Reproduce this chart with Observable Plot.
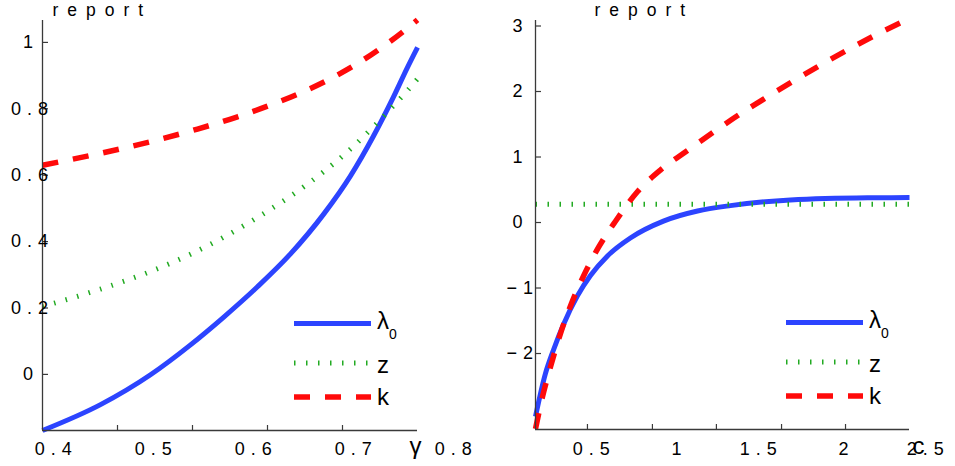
<!DOCTYPE html>
<html><head><meta charset="utf-8">
<script src="https://cdn.jsdelivr.net/npm/d3@7"></script>
<script src="https://cdn.jsdelivr.net/npm/@observablehq/plot@0.6"></script>
<style>
body{margin:0;background:#fff;}
#wrap{display:flex;width:955px;height:466px;overflow:hidden;}
#wrap svg{overflow:visible;}
g[font-size="18"] text{letter-spacing:6px;}
g[font-size="17.5"] text{letter-spacing:9px;}
</style></head><body><div id="wrap"></div>
<script>
// ---------- data ----------
const titleText = "report";
const seriesNames = ["λ", "z", "k"];
const seriesSub = ["0", "", ""];

// left panel (x = γ)
const leftXLabel = "γ";
const leftXDomain = [0.4, 0.775];
const leftYDomain = [-0.169, 1.066];
const leftXTicks = [0.475, 0.55, 0.625, 0.7];
const leftXLabels = [0.4, 0.5, 0.6, 0.7, 0.8];
const leftYTicks = [0, 0.2, 0.4, 0.6, 0.8, 1];
const lamL_x = [0.400, 0.458, 0.508, 0.548, 0.581, 0.615, 0.648, 0.681, 0.708, 0.731, 0.751, 0.765, 0.775];
const lamL_y = [-0.169, -0.091, -0.001, 0.089, 0.172, 0.264, 0.363, 0.482, 0.598, 0.718, 0.836, 0.925, 0.985];
const zL_x = [0.400, 0.411, 0.458, 0.508, 0.548, 0.581, 0.615, 0.648, 0.681, 0.708, 0.731, 0.751, 0.765, 0.775];
const zL_y = [0.205, 0.214, 0.257, 0.310, 0.362, 0.413, 0.473, 0.537, 0.610, 0.679, 0.746, 0.809, 0.855, 0.890];
const kL_x = [0.400, 0.458, 0.508, 0.555, 0.595, 0.625, 0.655, 0.685, 0.711, 0.738, 0.765, 0.775];
const kL_y = [0.630, 0.666, 0.701, 0.739, 0.776, 0.808, 0.844, 0.886, 0.929, 0.982, 1.043, 1.068];

// right panel (x = c)
const rightXLabel = "c";
const rightXDomain = [0.225, 2.464];
const rightYDomain = [-3.16, 3.084];
const rightXTicks = [0.536, 0.925, 1.308, 1.698, 2.081];
const rightXLabels = [0.5, 1, 1.5, 2, 2.5];
const rightYTicks = [-2, -1, 0, 1, 2, 3];
const lamR_x = [0.225, 0.284, 0.332, 0.392, 0.476, 0.554, 0.656, 0.793, 0.991, 1.195, 1.392, 1.751, 2.213, 2.464];
const lamR_y = [-2.96, -2.31, -1.95, -1.56, -1.12, -0.81, -0.51, -0.236, 0.021, 0.175, 0.258, 0.344, 0.377, 0.38];
const zR_x = [0.225, 2.464];
const zR_y = [0.28, 0.28];
const kR_x = [0.225, 0.266, 0.314, 0.374, 0.446, 0.512, 0.602, 0.704, 0.835, 0.973, 1.135, 1.290, 1.452, 1.614, 1.781, 1.943, 2.111, 2.290, 2.458];
const kR_y = [-3.15, -2.67, -2.21, -1.70, -1.20, -0.82, -0.38, 0.02, 0.47, 0.80, 1.10, 1.38, 1.66, 1.92, 2.18, 2.42, 2.66, 2.90, 3.11];

// ---------- styles ----------
const BLUE = "#2c44ff", GREEN = "#22aa22", RED = "#ff0a0a", AXIS = "#3a3a3a";
const styles = [
  {stroke: BLUE, strokeWidth: 5, strokeDasharray: null},
  {stroke: GREEN, strokeWidth: 5, strokeDasharray: "1.5,10.5"},
  {stroke: RED, strokeWidth: 5.5, strokeDasharray: "16,15"}
];
const FONT = "'Liberation Sans', Arial, Helvetica, sans-serif";
const fmt = d => d < 0 ? "\u2212" + Math.abs(d) : String(d);
const rows = (xs, ys) => xs.map((x, i) => ({x, y: ys[i]}));

function legendMark(index, scales, values, dims) {
  const g = d3.create("svg:g").attr("class", "legend").attr("font-family", FONT).attr("text-anchor", "start");
  const right = dims.width - dims.marginRight;
  const bottom = dims.height - dims.marginBottom;
  const rowY = [-106.5, -67, -33];
  const textDy = [5, 10, 8];
  seriesNames.forEach((name, i) => {
    const y = bottom + rowY[i];
    const s = styles[i];
    g.append("line").attr("x1", right - 123).attr("x2", right - 46)
      .attr("y1", y).attr("y2", y)
      .attr("stroke", s.stroke).attr("stroke-width", s.strokeWidth)
      .attr("stroke-dasharray", s.strokeDasharray);
    const t = g.append("text").attr("x", right - 40).attr("y", y + textDy[i])
      .attr("font-size", 24).attr("fill", "#000").text(name);
    if (seriesSub[i]) t.append("tspan").attr("font-size", 14).attr("dy", 10).text(seriesSub[i]);
  });
  return g.node();
}

function panel(o) {
  const series = [rows(o.lam[0], o.lam[1]), rows(o.z[0], o.z[1]), rows(o.k[0], o.k[1])];
  const intLabels = o.xLabels.filter(d => Number.isInteger(d));
  const decLabels = o.xLabels.filter(d => !Number.isInteger(d));
  const yInt = o.yTicks.filter(d => Number.isInteger(d) && d >= 0);
  const yNeg = o.yTicks.filter(d => d < 0);
  const yDec = o.yTicks.filter(d => !Number.isInteger(d));
  const lab = {fontSize: 18, fill: "#000", lineAnchor: "middle", textAnchor: "start"};
  return Plot.plot({
    width: o.width, height: 466,
    marginLeft: o.ml, marginRight: o.mr, marginTop: 20, marginBottom: o.mb,
    x: {domain: o.xDomain}, y: {domain: o.yDomain},
    style: {fontFamily: FONT, fontSize: "18px", color: "#000", background: "transparent"},
    marks: [
      ...series.map((d, i) => Plot.line(d, {x: "x", y: "y", curve: "monotone-x", strokeLinecap: "butt", strokeLinejoin: "round", ...styles[i]})),
      Plot.ruleX([o.xDomain[0]], {stroke: AXIS, strokeWidth: 1.3}),
      Plot.ruleY([o.yDomain[0]], {stroke: AXIS, strokeWidth: 1.3}),
      Plot.axisX(o.xTicks, {anchor: "bottom", tickSize: -5, fill: "none", stroke: AXIS, strokeWidth: 1.2, label: null}),
      Plot.axisY(o.yTicks, {anchor: "left", tickSize: -6, fill: "none", stroke: AXIS, strokeWidth: 1.2, label: null}),
      // x tick labels
      Plot.text(decLabels, {x: d => d, text: fmt, frameAnchor: "bottom", dx: o.xDecDx, dy: o.xDy, ...lab}),
      Plot.text(intLabels, {x: d => d, text: fmt, frameAnchor: "bottom", dx: o.xIntDx, dy: o.xDy, ...lab}),
      // y tick labels
      Plot.text(yDec, {y: d => d, text: fmt, frameAnchor: "left", dx: o.yDecDx, ...lab}),
      Plot.text(yInt, {y: d => d, text: fmt, frameAnchor: "left", dx: o.yIntDx, ...lab}),
      Plot.text(yNeg, {y: d => d, text: fmt, frameAnchor: "left", dx: o.yNegDx, ...lab}),
      // axis label
      Plot.text([o.xDomain[1]], {x: d => d, text: [o.xLabel], frameAnchor: "bottom", textAnchor: "start", lineAnchor: "bottom", dx: o.labDx, dy: o.labDy, fontSize: 24, fill: "#000"}),
      // title
      Plot.text([titleText], {text: d => d, frameAnchor: "top-left", textAnchor: "start", lineAnchor: "bottom", dx: o.titleDx, dy: -5, fontSize: 17.5, fill: "#000"}),
      legendMark
    ]
  });
}

const wrap = document.getElementById("wrap");
wrap.append(panel({
  width: 480, ml: 42, mr: 63, mb: 36,
  xDomain: leftXDomain, yDomain: leftYDomain,
  xTicks: leftXTicks, yTicks: leftYTicks, xLabels: leftXLabels, xLabel: leftXLabel,
  lam: [lamL_x, lamL_y], z: [zL_x, zL_y], k: [kL_x, kL_y],
  xDecDx: -7.7, xIntDx: 0, xDy: 19, yDecDx: -31.5, yIntDx: -19.5, yNegDx: -29,
  labDx: -8, labDy: 23, titleDx: 10
}));
wrap.append(panel({
  width: 475, ml: 55, mr: 46, mb: 37,
  xDomain: rightXDomain, yDomain: rightYDomain,
  xTicks: rightXTicks, yTicks: rightYTicks, xLabels: rightXLabels, xLabel: rightXLabel,
  lam: [lamR_x, lamR_y], z: [zR_x, zR_y], k: [kR_x, kR_y],
  xDecDx: -8.7, xIntDx: 6.5, xDy: 20, yDecDx: -31, yIntDx: -23, yNegDx: -29,
  labDx: 3, labDy: 24, titleDx: 59
}));
</script>
</body></html>
